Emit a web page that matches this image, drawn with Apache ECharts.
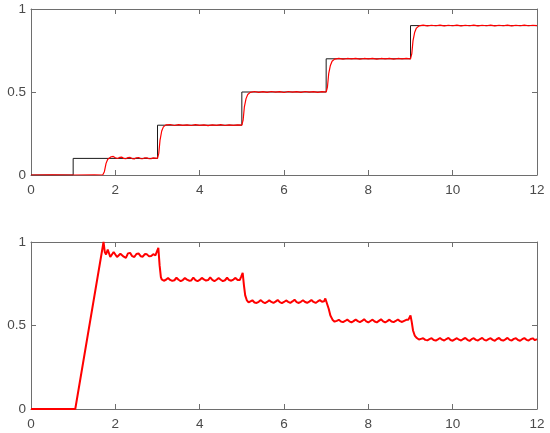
<!DOCTYPE html>
<html><head><meta charset="utf-8">
<script src="https://cdn.jsdelivr.net/npm/echarts@6/dist/echarts.min.js"></script>
<style>html,body{margin:0;padding:0;background:#fff}#c{width:550px;height:433px}</style>
</head><body><div id="c"></div>
<script>
// x tick values / y tick values
const xTicks = [0, 2, 4, 6, 8, 10, 12];
const yTicks = [0, 0.5, 1];

// Top plot: reference step (black)
const refTime = [0, 1, 1, 3, 3, 5, 5, 7, 7, 9, 9, 12];
const refVals = [0, 0, 0.1, 0.1, 0.3, 0.3, 0.5, 0.5, 0.7, 0.7, 0.9, 0.9];

// Top plot: response (red)
const respTime = [0,0.5,1,1.5,1.7,1.74,1.78,1.82,1.86,1.9,1.95,2.0,2.05,2.1,2.15,2.2,2.25,2.3,2.35,2.4,2.45,2.5,2.55,2.6,2.65,2.7,2.75,2.8,2.85,2.9,2.95,3.0,
3.03,3.06,3.1,3.14,3.2,3.3,3.4,3.5,3.6,3.7,3.8,3.9,4.0,4.1,4.2,4.3,4.4,4.5,4.6,4.7,4.8,4.9,5.0,
5.03,5.06,5.1,5.14,5.2,5.3,5.4,5.5,5.6,5.7,5.8,5.9,6.0,6.1,6.2,6.3,6.4,6.5,6.6,6.7,6.8,6.9,7.0,
7.03,7.06,7.1,7.14,7.2,7.3,7.4,7.5,7.6,7.7,7.8,7.9,8.0,8.1,8.2,8.3,8.4,8.5,8.6,8.7,8.8,8.9,9.0,
9.03,9.06,9.1,9.14,9.2,9.3,9.4,9.5,9.6,9.7,9.8,9.9,10.0,10.1,10.2,10.3,10.4,10.5,10.6,10.7,10.8,10.9,11.0,11.1,11.2,11.3,11.4,11.5,11.6,11.7,11.8,11.9,12.0];
const respVals = [0,0.001,0,0.001,0,0.02,0.07,0.095,0.104,0.11,0.112,0.104,0.099,0.106,0.108,0.1,0.098,0.105,0.106,0.099,0.097,0.104,0.105,0.099,0.098,0.104,0.103,0.098,0.099,0.103,0.102,0.1,
0.13,0.21,0.265,0.29,0.302,0.304,0.298,0.303,0.299,0.302,0.298,0.303,0.299,0.302,0.297,0.302,0.299,0.303,0.298,0.302,0.299,0.302,0.3,
0.33,0.41,0.46,0.485,0.498,0.503,0.498,0.502,0.498,0.503,0.499,0.502,0.497,0.503,0.499,0.502,0.498,0.503,0.499,0.502,0.498,0.502,0.5,
0.53,0.61,0.66,0.685,0.698,0.703,0.698,0.702,0.699,0.703,0.698,0.702,0.699,0.703,0.698,0.702,0.699,0.703,0.698,0.702,0.699,0.702,0.7,
0.73,0.81,0.86,0.885,0.898,0.903,0.898,0.902,0.899,0.903,0.898,0.902,0.899,0.903,0.898,0.902,0.899,0.903,0.898,0.902,0.899,0.903,0.898,0.902,0.899,0.903,0.898,0.902,0.899,0.903,0.899,0.902,0.9];

// Bottom plot: control signal (red)
const ctrlTime = [0,0.5,1.0,1.05,1.72,1.75,1.78,1.82,1.85,1.88,1.92,1.96,2.0,2.04,2.08,2.12,2.16,2.2,2.25,2.3,2.35,2.4,2.45,2.5,2.55,2.6,2.65,2.7,2.75,2.8,2.85,2.9,2.95,2.98,3.02,3.05,3.08,
3.1,3.15,3.2,3.25,3.3,3.35,3.4,3.45,3.5,3.55,3.6,3.65,3.7,3.75,3.8,3.85,3.9,3.95,4.0,4.05,4.1,4.15,4.2,4.25,4.3,4.35,4.4,4.45,4.5,4.55,4.6,4.65,4.7,4.75,4.8,4.85,4.9,4.95,4.98,5.02,5.05,5.08,5.12,5.16,
5.2,5.25,5.3,5.35,5.4,5.45,5.5,5.55,5.6,5.65,5.7,5.75,5.8,5.85,5.9,5.95,6.0,6.05,6.1,6.15,6.2,6.25,6.3,6.35,6.4,6.45,6.5,6.55,6.6,6.65,6.7,6.75,6.8,6.85,6.9,6.95,6.98,7.02,7.06,7.1,7.15,7.2,
7.25,7.3,7.35,7.4,7.45,7.5,7.55,7.6,7.65,7.7,7.75,7.8,7.85,7.9,7.95,8.0,8.05,8.1,8.15,8.2,8.25,8.3,8.35,8.4,8.45,8.5,8.55,8.6,8.65,8.7,8.75,8.8,8.85,8.9,8.95,9.0,9.03,9.06,9.1,9.15,9.2,
9.25,9.3,9.35,9.4,9.45,9.5,9.55,9.6,9.65,9.7,9.75,9.8,9.85,9.9,9.95,10.0,10.05,10.1,10.15,10.2,10.25,10.3,10.35,10.4,10.45,10.5,10.55,10.6,10.65,10.7,10.75,10.8,10.85,10.9,10.95,11.0,
11.05,11.1,11.15,11.2,11.25,11.3,11.35,11.4,11.45,11.5,11.55,11.6,11.65,11.7,11.75,11.8,11.85,11.9,11.95,12.0];
const ctrlVals = [0,0,0,0,1.0,0.94,0.925,0.955,0.95,0.91,0.9,0.94,0.945,0.91,0.9,0.93,0.94,0.912,0.905,0.932,0.935,0.915,0.91,0.928,0.932,0.915,0.912,0.928,0.926,0.914,0.916,0.927,0.92,0.93,0.965,0.86,0.79,
0.776,0.768,0.774,0.785,0.773,0.767,0.771,0.786,0.774,0.766,0.772,0.784,0.775,0.768,0.77,0.787,0.772,0.765,0.773,0.785,0.776,0.769,0.772,0.788,0.773,0.766,0.774,0.784,0.774,0.766,0.771,0.786,0.772,0.768,0.775,0.785,0.773,0.772,0.79,0.815,0.74,0.68,0.65,0.638,
0.644,0.651,0.638,0.635,0.642,0.652,0.64,0.634,0.641,0.651,0.641,0.635,0.643,0.653,0.64,0.634,0.641,0.65,0.642,0.636,0.644,0.654,0.64,0.635,0.642,0.651,0.641,0.636,0.643,0.653,0.641,0.635,0.644,0.652,0.642,0.645,0.662,0.66,0.6,0.56,0.535,0.523,
0.528,0.534,0.524,0.52,0.527,0.535,0.525,0.519,0.526,0.536,0.526,0.52,0.527,0.538,0.525,0.519,0.527,0.535,0.524,0.519,0.528,0.537,0.525,0.518,0.526,0.535,0.524,0.52,0.527,0.536,0.526,0.521,0.528,0.534,0.535,0.56,0.52,0.47,0.44,0.425,0.416,
0.42,0.424,0.414,0.411,0.418,0.424,0.413,0.41,0.417,0.425,0.415,0.41,0.419,0.426,0.413,0.409,0.417,0.424,0.415,0.41,0.419,0.425,0.414,0.408,0.418,0.424,0.414,0.41,0.419,0.426,0.414,0.41,0.418,0.424,0.414,0.409,
0.419,0.425,0.413,0.41,0.417,0.426,0.414,0.41,0.42,0.424,0.413,0.409,0.418,0.425,0.414,0.41,0.419,0.423,0.412,0.418];

function pairs(t, v) { return t.map((x, i) => [x, v[i]]); }

const axisColor = '#6e6e6e';
const labelStyle = { color: '#4a4a4a', fontSize: 13.5, fontFamily: 'Liberation Sans, Arial, sans-serif' };
function xAx(grid, pos, showLabel) {
  return {
    type: 'value', gridIndex: grid, position: pos, min: 0, max: 12, interval: 2,
    axisLine: { show: true, onZero: false, lineStyle: { color: axisColor, width: 1 } },
    axisTick: { show: true, inside: true, length: 5, lineStyle: { color: axisColor } },
    axisLabel: Object.assign({ show: showLabel, margin: 8 }, labelStyle),
    splitLine: { show: false }
  };
}
function yAx(grid, pos, showLabel) {
  return {
    type: 'value', gridIndex: grid, position: pos, min: 0, max: 1, interval: 0.5,
    axisLine: { show: true, onZero: false, lineStyle: { color: axisColor, width: 1 } },
    axisTick: { show: true, inside: true, length: 5, lineStyle: { color: axisColor } },
    axisLabel: Object.assign({ show: showLabel, margin: 5 }, labelStyle),
    splitLine: { show: false }
  };
}

const chart = echarts.init(document.getElementById('c'), null, { renderer: 'canvas' });
chart.setOption({
  animation: false,
  backgroundColor: '#ffffff',
  grid: [
    { left: 31, top: 9, width: 506, height: 166 },
    { left: 31, top: 242, width: 506, height: 167 }
  ],
  xAxis: [xAx(0, 'bottom', true), xAx(0, 'top', false), xAx(1, 'bottom', true), xAx(1, 'top', false)],
  yAxis: [yAx(0, 'left', true), yAx(0, 'right', false), yAx(1, 'left', true), yAx(1, 'right', false)],
  series: [
    { type: 'line', xAxisIndex: 0, yAxisIndex: 0, data: pairs(refTime, refVals), showSymbol: false,
      lineStyle: { color: '#1a1a1a', width: 1 }, z: 2 },
    { type: 'line', xAxisIndex: 0, yAxisIndex: 0, data: pairs(respTime, respVals), showSymbol: false,
      lineStyle: { color: '#ff0000', width: 1.2 }, z: 3 },
    { type: 'line', xAxisIndex: 2, yAxisIndex: 2, data: pairs(ctrlTime, ctrlVals), showSymbol: false,
      lineStyle: { color: '#ff0000', width: 2 }, z: 3 }
  ]
});
</script></body></html>
